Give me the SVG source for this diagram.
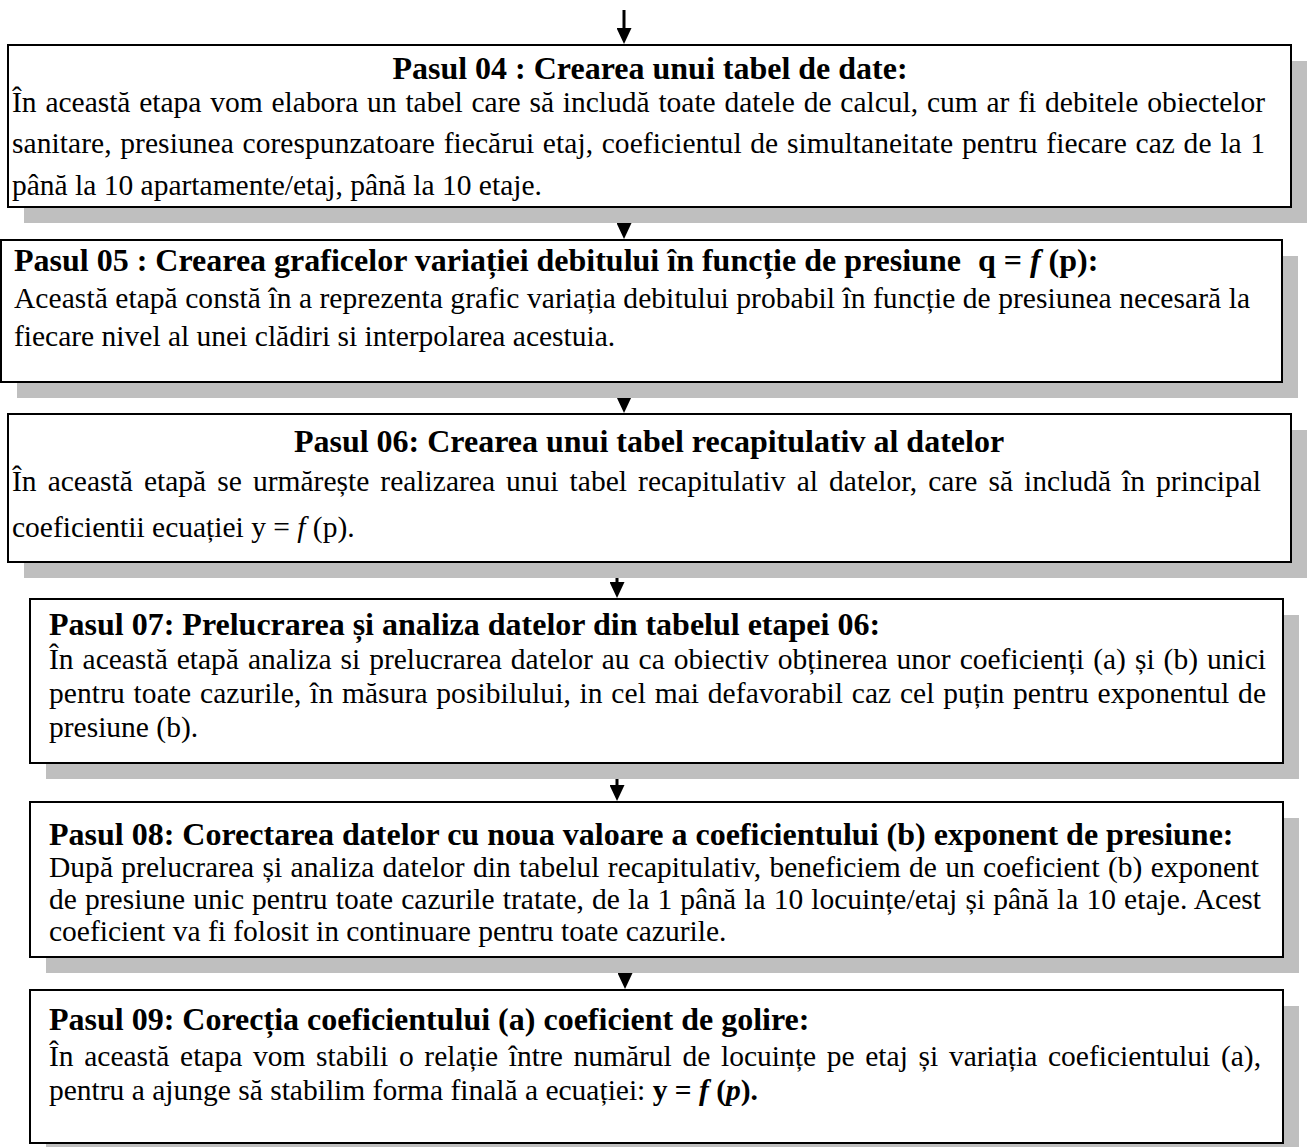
<svg xmlns="http://www.w3.org/2000/svg" width="1307" height="1147" viewBox="0 0 1307 1147">
<defs>
<style>
.shadow{fill:#bfbfbf}
.box{fill:#fff;stroke:#000;stroke-width:2}
.t{font-family:"Liberation Serif","Times New Roman",serif;font-weight:bold;font-size:32px;fill:#000}
.b{font-family:"Liberation Serif","Times New Roman",serif;font-size:29.5px;fill:#000}
.i{font-style:italic}
.bd{font-weight:bold}
.conn{stroke:#000;stroke-width:3;fill:none}
</style>
<marker id="ah" markerWidth="16" markerHeight="15" refX="0" refY="7.5" orient="auto" markerUnits="userSpaceOnUse">
<path d="M0,0 L16,7.5 L0,15 z" fill="#000"/>
</marker>
</defs>
<rect width="1307" height="1147" fill="#fff"/>

<g id="connectors">
<line class="conn" x1="624" y1="10" x2="624" y2="28" marker-end="url(#ah)"/>
<line class="conn" x1="624" y1="207" x2="624" y2="223" marker-end="url(#ah)"/>
<line class="conn" x1="624" y1="382" x2="624" y2="397" marker-end="url(#ah)"/>
<line class="conn" x1="617" y1="562" x2="617" y2="582" marker-end="url(#ah)"/>
<line class="conn" x1="617" y1="763" x2="617" y2="785" marker-end="url(#ah)"/>
<line class="conn" x1="625" y1="957" x2="625" y2="973" marker-end="url(#ah)"/>
</g>

<g id="pasul04">
<rect class="shadow" x="24" y="61" width="1283" height="162"/>
<rect class="box" x="8" y="45" width="1283" height="162"/>
<text class="t" x="650" y="79" text-anchor="middle">Pasul 04 : Crearea unui tabel de date:</text>
<text class="b" x="12" y="112" word-spacing="1.5" textLength="1253" lengthAdjust="spacing">În această etapa vom elabora un tabel care să includă toate datele de calcul, cum ar fi debitele obiectelor</text>
<text class="b" x="12" y="153" word-spacing="1.2" textLength="1253" lengthAdjust="spacing">sanitare, presiunea corespunzatoare fiecărui etaj, coeficientul de simultaneitate pentru fiecare caz de la 1</text>
<text class="b" x="12" y="195">până la 10 apartamente/etaj, până la 10 etaje.</text>
</g>

<g id="pasul05">
<rect class="shadow" x="17" y="256" width="1281" height="142"/>
<rect class="box" x="1" y="240" width="1281" height="142"/>
<text class="t" x="14" y="271">Pasul 05 : Crearea graficelor variației debitului în funcție de presiune<tspan dx="17">q = </tspan><tspan class="i">f</tspan> (p):</text>
<text class="b" x="14" y="308" textLength="1236" lengthAdjust="spacing">Această etapă constă în a reprezenta grafic variația debitului probabil în funcție de presiunea necesară la</text>
<text class="b" x="14" y="346">fiecare nivel al unei clădiri si interpolarea acestuia.</text>
</g>

<g id="pasul06">
<rect class="shadow" x="24" y="430" width="1283" height="148"/>
<rect class="box" x="8" y="414" width="1283" height="148"/>
<text class="t" x="649" y="452" text-anchor="middle">Pasul 06: Crearea unui tabel recapitulativ al datelor</text>
<text class="b" x="12" y="491" word-spacing="3.7" textLength="1249" lengthAdjust="spacing">În această etapă se urmărește realizarea unui tabel recapitulativ al datelor, care să includă în principal</text>
<text class="b" x="12" y="537">coeficientii ecuației y = <tspan class="i">f</tspan> (p).</text>
</g>

<g id="pasul07">
<rect class="shadow" x="46" y="615" width="1253" height="164"/>
<rect class="box" x="30" y="599" width="1253" height="164"/>
<text class="t" x="49" y="635">Pasul 07: Prelucrarea și analiza datelor din tabelul etapei 06:</text>
<text class="b" x="49" y="669" word-spacing="1.6" textLength="1217" lengthAdjust="spacing">În această etapă analiza si prelucrarea datelor au ca obiectiv obținerea unor coeficienți (a) și (b) unici</text>
<text class="b" x="49" y="703" word-spacing="1.2" textLength="1217" lengthAdjust="spacing">pentru toate cazurile, în măsura posibilului, in cel mai defavorabil caz cel puțin pentru exponentul de</text>
<text class="b" x="49" y="737">presiune (b).</text>
</g>

<g id="pasul08">
<rect class="shadow" x="46" y="818" width="1253" height="155"/>
<rect class="box" x="30" y="802" width="1253" height="155"/>
<text class="t" x="49" y="845">Pasul 08: Corectarea datelor cu noua valoare a coeficientului (b) exponent de presiune:</text>
<text class="b" x="49" y="877" word-spacing="0.9" textLength="1210" lengthAdjust="spacing">După prelucrarea și analiza datelor din tabelul recapitulativ, beneficiem de un coeficient (b) exponent</text>
<text class="b" x="49" y="909" word-spacing="0.7" textLength="1212" lengthAdjust="spacing">de presiune unic pentru toate cazurile tratate, de la 1 până la 10 locuințe/etaj și până la 10 etaje. Acest</text>
<text class="b" x="49" y="941">coeficient va fi folosit in continuare pentru toate cazurile.</text>
</g>

<g id="pasul09">
<rect class="shadow" x="46" y="1006" width="1253" height="153"/>
<rect class="box" x="30" y="990" width="1253" height="153"/>
<text class="t" x="49" y="1030">Pasul 09: Corecția coeficientului (a) coeficient de golire:</text>
<text class="b" x="49" y="1066" word-spacing="3.3" textLength="1212" lengthAdjust="spacing">În această etapa vom stabili o relație între numărul de locuințe pe etaj și variația coeficientului (a),</text>
<text class="b" x="49" y="1100">pentru a ajunge să stabilim forma finală a ecuației: <tspan class="bd">y = </tspan><tspan class="bd i">f</tspan><tspan class="bd"> (</tspan><tspan class="bd i">p</tspan><tspan class="bd">).</tspan></text>
</g>
</svg>
